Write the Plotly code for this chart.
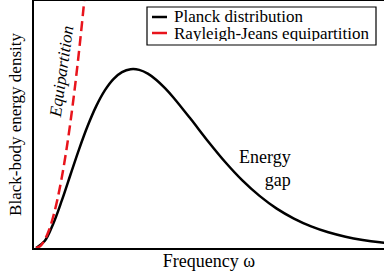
import plotly.graph_objects as go

# Values (dimensionless frequency, energy density)
planck_x = [0, 0.25, 0.5, 0.75, 1.0, 1.25, 1.5, 1.75, 2.0, 2.25, 2.5, 2.75, 3.0, 3.25,
            3.5, 3.75, 4.0, 4.5, 5.0, 5.5, 6.0, 6.5, 7.0, 7.5, 8.0, 8.5, 9.0, 9.5, 10.0, 10.5]
planck_y = [0, 0.055, 0.193, 0.378, 0.582, 0.784, 0.969, 1.127, 1.252, 1.342, 1.397, 1.420,
            1.415, 1.385, 1.335, 1.270, 1.194, 1.024, 0.848, 0.683, 0.537, 0.414, 0.313,
            0.234, 0.172, 0.125, 0.090, 0.064, 0.045, 0.032]
rj_x = [0, 0.125, 0.25, 0.375, 0.5, 0.625, 0.75, 0.875, 1.0, 1.125, 1.25, 1.375, 1.5]
rj_y = [0, 0.016, 0.063, 0.141, 0.25, 0.391, 0.563, 0.766, 1.0, 1.266, 1.563, 1.891, 2.25]

legend_labels = ["Planck distribution", "Rayleigh-Jeans equipartition"]
legend_colors = ["black", "#e8141c"]

FONT = "Liberation Serif"
W, H = 384, 279
L, R, T, B = 34, 0, 1, 31
PW, PH = W - L - R, H - T - B

def px(xp):
    return (xp - L) / PW

def py(yp):
    return (H - B - yp) / PH

fig = go.Figure()
fig.add_trace(go.Scatter(x=planck_x, y=planck_y, mode="lines", line_shape="spline",
                         line=dict(color=legend_colors[0], width=2.5),
                         name=legend_labels[0], showlegend=False))
fig.add_trace(go.Scatter(x=rj_x, y=rj_y, mode="lines", line_shape="spline",
                         line=dict(color=legend_colors[1], width=2.5, dash="10px,5px"),
                         name=legend_labels[1], showlegend=False))

shapes = [dict(type="rect", xref="paper", yref="paper",
               x0=px(147), x1=px(376), y0=py(45), y1=py(7),
               line=dict(color="black", width=1.2), fillcolor="white", layer="above")]
annotations = []
for i, (lab, col) in enumerate(zip(legend_labels, legend_colors)):
    yy = 17 + 16 * i
    shapes.append(dict(type="line", xref="paper", yref="paper",
                       x0=px(152), x1=px(167), y0=py(yy), y1=py(yy),
                       line=dict(color=col, width=2.5), layer="above"))
    annotations.append(dict(xref="paper", yref="paper", x=px(173), y=py(yy),
                            text=lab, showarrow=False, xanchor="left", yanchor="middle",
                            height=15, borderpad=0,
                            font=dict(family=FONT, size=17, color="black")))

annotations.append(dict(xref="paper", yref="paper", x=px(61), y=py(72),
                        text="<i>Equipartition</i>", showarrow=False, textangle=-82,
                        xanchor="center", yanchor="middle",
                        font=dict(family=FONT, size=17, color="black")))
annotations.append(dict(xref="paper", yref="paper", x=px(293), y=py(168),
                        text="Energy<br>gap", showarrow=False, align="right",
                        xanchor="right", yanchor="middle",
                        font=dict(family=FONT, size=18, color="black")))

fig.update_layout(
    width=W, height=H,
    margin=dict(l=L, r=R, t=T, b=B, autoexpand=False),
    plot_bgcolor="white", paper_bgcolor="white",
    shapes=shapes, annotations=annotations,
    font=dict(family=FONT, size=18, color="black"),
    xaxis=dict(range=[-0.06, 10.12], showgrid=False, zeroline=False, showticklabels=False,
               ticks="", showline=True, linecolor="black", linewidth=1.5, mirror=True,
               automargin=False,
               title=dict(text="Frequency ω", standoff=6, font=dict(family=FONT, size=18))),
    yaxis=dict(range=[0, 1.962], showgrid=False, zeroline=False, showticklabels=False,
               ticks="", showline=True, linecolor="black", linewidth=1.5,
               automargin=False,
               title=dict(text="Black-body energy density", standoff=6,
                          font=dict(family=FONT, size=17))),
    showlegend=False,
)

fig.write_html("out.html", config={"displayModeBar": False},
               post_script="document.body.style.margin='0';")
